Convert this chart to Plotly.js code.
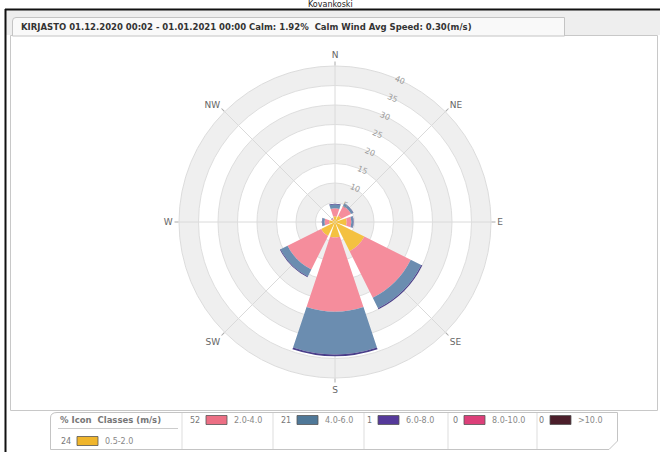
<!DOCTYPE html>
<html><head><meta charset="utf-8">
<script src="https://cdn.plot.ly/plotly-3.0.1.min.js"></script>
<style>html,body{margin:0;padding:0;background:#fff;overflow:hidden;} #chart{width:660px;height:452px;}</style>
</head><body><div id="chart"></div>
<script>
// ---------- data ----------
const directions = ['N','NE','E','SE','S','SW','W','NW'];
const directionAngles = [0,45,90,135,180,225,270,315];
const classLabels = ['0.5-2.0','2.0-4.0','4.0-6.0','6.0-8.0','8.0-10.0','>10.0'];
const classPercents = [24,52,21,1,0,0];
const speed05to20 = [1.5,1.8,3.0,8.4,4.0,4.0,1.5,0.8];
const speed20to40 = [2.0,2.8,1.2,13.3,19.0,9.6,1.2,0.3];
const speed40to60 = [1.0,0.6,0.5,3.0,10.9,2.0,0.6,0.1];
const speed60to80 = [0.2,0.1,0.1,0.3,0.5,0.2,0.1,0.0];
const speed80to100 = [0,0,0,0,0,0,0,0];
const speedOver100 = [0,0,0,0,0,0,0,0];
const radialTicks = [5,10,15,20,25,30,35,40];
const stationTitle = 'Kovankoski';
const headerText = 'KIRJASTO 01.12.2020 00:02 - 01.01.2021 00:00 Calm: 1.92%  Calm Wind Avg Speed: 0.30(m/s)';

// ---------- styles ----------
const chartColors = ['#f4c141','#f58d9c','#6b8db0','#4a3f8a','#d83c78','#4a2530'];
const legendColors = ['#efb52c','#ec6f84','#4f7898','#55399a','#dc3f79','#4b1e2a'];
const FONT = 'DejaVu Sans, Verdana, sans-serif';
const W = 660, H = 452;
const X = p => p / W;
const Y = p => 1 - p / H;

const series = [speed05to20, speed20to40, speed40to60, speed60to80, speed80to100, speedOver100];

const traces = [];
// background bands (drawn in the lower polar subplot)
const step = radialTicks[1] - radialTicks[0];
const bandBases = radialTicks.filter((t, i) => i % 2 === 0);
traces.push({
  type: 'barpolar', subplot: 'polar',
  r: bandBases.map(() => step), base: bandBases,
  theta: bandBases.map(() => 0), width: bandBases.map(() => 360),
  marker: {color: '#efefef', line: {width: 0}},
  hoverinfo: 'skip', showlegend: false
});
series.forEach((vals, i) => {
  traces.push({
    type: 'barpolar', subplot: 'polar2',
    r: vals, theta: directionAngles, width: directionAngles.map(() => 37),
    name: classLabels[i],
    marker: {color: chartColors[i], line: {width: 0}},
    showlegend: false
  });
});

const dom = {x: [X(179), X(491)], y: [Y(378), Y(66)]};

const shapes = [];
const annotations = [];
// outer grey area + black border
shapes.push({type:'rect', xref:'paper', yref:'paper', x0:X(5), x1:X(660), y0:Y(35), y1:Y(10), fillcolor:'#eeeeee', line:{width:0}, layer:'below'});
// panel
shapes.push({type:'rect', xref:'paper', yref:'paper', x0:X(10.5), x1:X(657.5), y0:Y(410.5), y1:Y(35.5), fillcolor:'rgba(255,255,255,0)', line:{color:'#c8c8c8', width:1}, layer:'below'});
// tab
shapes.push({type:'path', xref:'paper', yref:'paper',
  path:`M ${X(12.5)},${Y(36)} L ${X(12.5)},${Y(21)} Q ${X(12.5)},${Y(17.5)} ${X(16)},${Y(17.5)} L ${X(564.5)},${Y(17.5)} L ${X(564.5)},${Y(36)} Z`,
  fillcolor:'#f9f9f9', line:{color:'#c4c4c4', width:1}, layer:'below'});
shapes.push({type:'line', xref:'paper', yref:'paper', x0:X(5), x1:X(660), y0:Y(9.5), y1:Y(9.5), line:{color:'#111', width:2}});
shapes.push({type:'line', xref:'paper', yref:'paper', x0:X(5.5), x1:X(5.5), y0:Y(9), y1:Y(452), line:{color:'#111', width:2}});

// legend box
shapes.push({type:'path', xref:'paper', yref:'paper',
  path:`M ${X(50.5)},${Y(449.5)} L ${X(50.5)},${Y(418)} Q ${X(50.5)},${Y(412.5)} ${X(57)},${Y(412.5)} L ${X(617.5)},${Y(412.5)} L ${X(617.5)},${Y(441)} L ${X(609)},${Y(449.5)} Z`,
  fillcolor:'#ffffff', line:{color:'#c4c4c4', width:1}, layer:'below'});
[182, 273, 364, 448, 537].forEach(sx => {
  shapes.push({type:'line', xref:'paper', yref:'paper', x0:X(sx), x1:X(sx), y0:Y(413), y1:Y(449), line:{color:'#dddddd', width:1}});
});
shapes.push({type:'line', xref:'paper', yref:'paper', x0:X(58), x1:X(178), y0:Y(428.5), y1:Y(428.5), line:{color:'#cccccc', width:1}});

// legend entries: [boxX, rowY]
const legendPos = [[77,441],[206,420],[297,420],[378,420],[464,420],[550,420]];
classLabels.forEach((lab, i) => {
  const [bx, ry] = legendPos[i];
  annotations.push({xref:'paper', yref:'paper', x:X(bx-4), y:Y(ry), xanchor:'right', yanchor:'middle', showarrow:false,
    text:String(classPercents[i]), font:{family:FONT, size:8, color:'#777'}});
  shapes.push({type:'rect', xref:'paper', yref:'paper', x0:X(bx), x1:X(bx+21), y0:Y(ry+4.5), y1:Y(ry-4.5),
    fillcolor:legendColors[i], line:{color:'#555', width:0.8}});
  annotations.push({xref:'paper', yref:'paper', x:X(bx+26), y:Y(ry), xanchor:'left', yanchor:'middle', showarrow:false,
    text:lab, font:{family:FONT, size:8, color:'#888'}});
});
annotations.push({xref:'paper', yref:'paper', x:X(58), y:Y(420), xanchor:'left', yanchor:'middle', showarrow:false,
  text:'<b>% Icon  Classes (m/s)</b>', font:{family:FONT, size:8.5, color:'#777'}});

// header text & title
annotations.push({xref:'paper', yref:'paper', x:X(19), y:Y(27), xanchor:'left', yanchor:'middle', showarrow:false,
  text:'<b>' + headerText + '</b>', font:{family:FONT, size:8.5, color:'#333'}});
annotations.push({xref:'paper', yref:'paper', x:0.5, y:Y(4), xanchor:'center', yanchor:'middle', showarrow:false,
  text:stationTitle, font:{family:FONT, size:8, color:'#222'}});

const layout = {
  width: W, height: H,
  margin: {l:0, r:0, t:0, b:0},
  paper_bgcolor: '#ffffff',
  showlegend: false,
  font: {family: FONT},
  polar: {
    domain: dom, bgcolor: '#ffffff', barmode: 'overlay',
    angularaxis: {visible: false, rotation: 90, direction: 'clockwise'},
    radialaxis: {visible: false, range: [0, 40]}
  },
  polar2: {
    domain: dom, bgcolor: 'rgba(0,0,0,0)', barmode: 'stack',
    angularaxis: {
      rotation: 90, direction: 'clockwise',
      tickmode: 'array', tickvals: directionAngles, ticktext: directions,
      showgrid: true, gridcolor: '#dadada', gridwidth: 1,
      showline: true, linecolor: '#dcdcdc', linewidth: 1,
      ticks: 'outside', ticklen: 4, tickcolor: '#aaaaaa',
      tickfont: {family: FONT, size: 9, color: '#666666'}
    },
    radialaxis: {
      range: [0, 40], angle: 67.5, tickangle: 90,
      tickmode: 'array', tickvals: radialTicks,
      showline: false, ticks: '', showgrid: true, gridcolor: '#dedede',
      tickfont: {family: FONT, size: 8, color: '#999'}
    }
  },
  shapes: shapes,
  annotations: annotations
};

Plotly.newPlot('chart', traces, layout, {displayModeBar: false, staticPlot: true});
</script>
</body></html>
